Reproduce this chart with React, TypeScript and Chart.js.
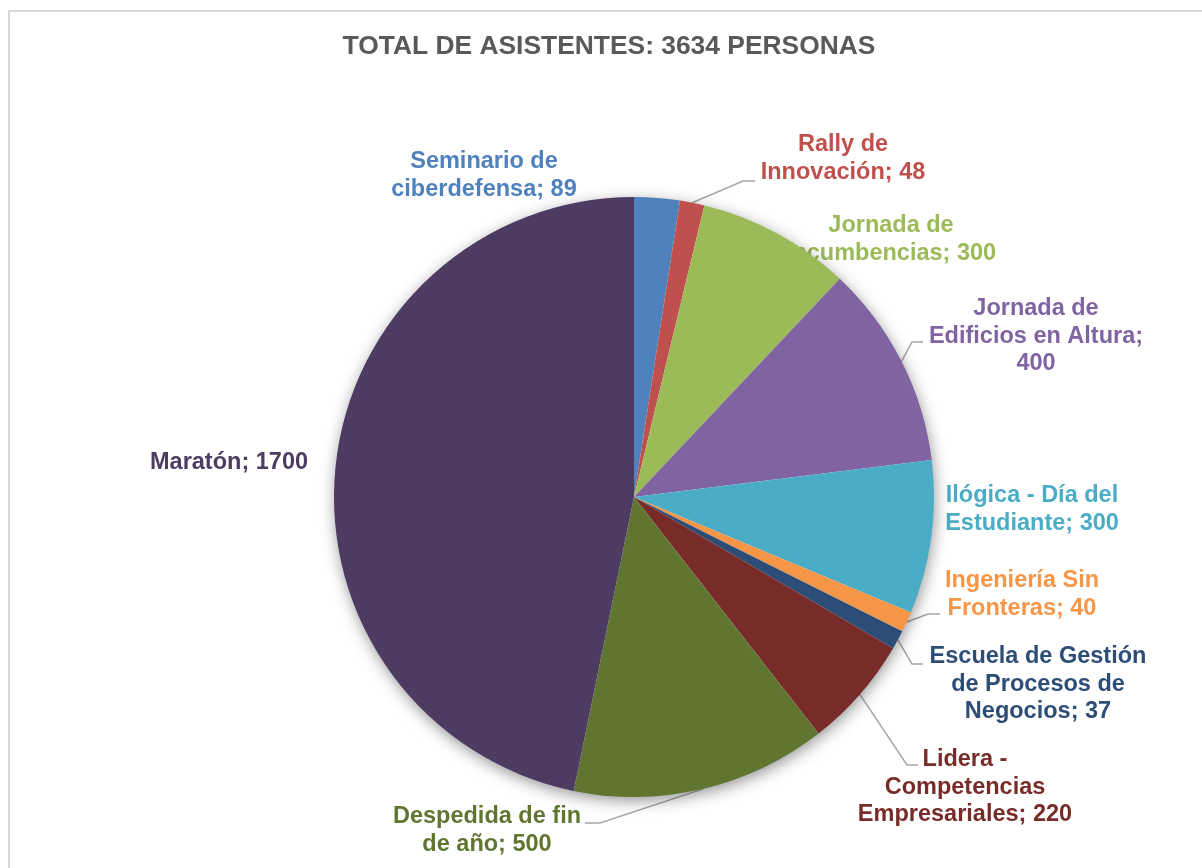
import React, { useEffect, useRef } from "react";
import { Chart, registerables } from "chart.js";

Chart.register(...registerables);

const TITLE = "TOTAL DE ASISTENTES: 3634 PERSONAS";

const categories = [
  "Seminario de ciberdefensa",
  "Rally de Innovación",
  "Jornada de Incumbencias",
  "Jornada de Edificios en Altura",
  "Ilógica - Día del Estudiante",
  "Ingeniería Sin Fronteras",
  "Escuela de Gestión de Procesos de Negocios",
  "Lidera - Competencias Empresariales",
  "Despedida de fin de año",
  "Maratón",
];

const values = [89, 48, 300, 400, 300, 40, 37, 220, 500, 1700];

const sliceColors = [
  "#4F81BD",
  "#C0504D",
  "#9BBB59",
  "#8064A2",
  "#4BACC6",
  "#F79646",
  "#2C4D75",
  "#772C2A",
  "#5F7530",
  "#4D3B62",
];

// words per wrapped line of each data label
const labelWrap = [[2, 2], [2, 2], [2, 2], [2, 3, 1], [4, 2], [2, 2], [3, 3, 2], [2, 1, 2], [3, 3], [2]];

// layout: label centre x, first-line centre y, optional leader elbow/end
const labelLayout = [
  { x: 484, y: 162 },
  { x: 843, y: 145, elbow: [743, 181], end: [755, 181] },
  { x: 891, y: 226 },
  { x: 1036, y: 309, elbow: [912, 342], end: [923, 342] },
  { x: 1032, y: 496 },
  { x: 1022, y: 581, elbow: [928, 614], end: [940, 614] },
  { x: 1038, y: 657, elbow: [912, 664], end: [923, 664] },
  { x: 965, y: 760, elbow: [907, 765], end: [918, 765] },
  { x: 487, y: 817, elbow: [600, 823], end: [585, 823] },
  { x: 229, y: 463 },
];

const FONT = '"Liberation Sans", Arial, sans-serif';
const LABEL_SIZE = 23.5;
const LINE_H = 27.5;

function wrapLabel(i: number): string[] {
  const words = `${categories[i]}; ${values[i]}`.split(" ");
  const lines: string[] = [];
  let k = 0;
  for (const n of labelWrap[i]) {
    lines.push(words.slice(k, k + n).join(" "));
    k += n;
  }
  return lines;
}

const decorPlugin = {
  id: "decor",
  beforeDraw(chart: any) {
    const ctx = chart.ctx;
    ctx.save();
    ctx.fillStyle = "#FFFFFF";
    ctx.fillRect(0, 0, chart.width, chart.height);
    ctx.strokeStyle = "#D9D9D9";
    ctx.lineWidth = 2;
    ctx.strokeRect(9, 11, 1400, 1200);
    ctx.fillStyle = "#595959";
    ctx.font = `bold 26.4px ${FONT}`;
    ctx.textAlign = "center";
    ctx.textBaseline = "middle";
    ctx.fillText(TITLE, 609, 47);
    ctx.restore();
  },
  beforeDatasetsDraw(chart: any) {
    const ctx = chart.ctx;
    const meta = chart.getDatasetMeta(0);
    ctx.save();
    // labels + leader lines (drawn beneath the pie)
    ctx.font = `bold ${LABEL_SIZE}px ${FONT}`;
    ctx.textAlign = "center";
    ctx.textBaseline = "middle";
    meta.data.forEach((arc: any, i: number) => {
      const lay: any = labelLayout[i];
      const lines = wrapLabel(i);
      ctx.fillStyle = sliceColors[i];
      lines.forEach((ln, j) => ctx.fillText(ln, lay.x, lay.y + j * LINE_H));
      if (lay.elbow) {
        const p = arc.getProps(["x", "y", "startAngle", "endAngle", "outerRadius"], true);
        const mid = (p.startAngle + p.endAngle) / 2;
        const sx = p.x + Math.cos(mid) * p.outerRadius;
        const sy = p.y + Math.sin(mid) * p.outerRadius;
        ctx.strokeStyle = "#A6A6A6";
        ctx.lineWidth = 1.5;
        ctx.beginPath();
        ctx.moveTo(sx, sy);
        ctx.lineTo(lay.elbow[0], lay.elbow[1]);
        ctx.lineTo(lay.end[0], lay.end[1]);
        ctx.stroke();
      }
    });
    // soft shadow under pie
    const a0 = meta.data[0].getProps(["x", "y", "outerRadius"], true);
    ctx.shadowColor = "rgba(0,0,0,0.45)";
    ctx.shadowBlur = 16;
    ctx.shadowOffsetX = 1;
    ctx.shadowOffsetY = 4;
    ctx.fillStyle = "#FFFFFF";
    ctx.beginPath();
    ctx.arc(a0.x, a0.y, a0.outerRadius - 1, 0, Math.PI * 2);
    ctx.fill();
    ctx.restore();
  },
};

export default function App() {
  const ref = useRef<HTMLCanvasElement | null>(null);
  useEffect(() => {
    if (!ref.current) return;
    const chart = new Chart(ref.current, {
      type: "pie",
      data: {
        labels: categories,
        datasets: [
          {
            data: values,
            backgroundColor: sliceColors,
            borderWidth: 0,
          },
        ],
      },
      options: {
        responsive: false,
        animation: false,
        devicePixelRatio: 1,
        layout: { padding: { left: 334, right: 268, top: 197, bottom: 71 } },
        plugins: {
          legend: { display: false },
          tooltip: { enabled: false },
          title: { display: false },
        },
      },
      plugins: [decorPlugin],
    });
    return () => chart.destroy();
  }, []);
  return (
    <div style={{ position: "fixed", left: 0, top: 0, width: 1202, height: 868, background: "#fff" }}>
      <canvas ref={ref} width={1202} height={868} style={{ display: "block" }} />
    </div>
  );
}
